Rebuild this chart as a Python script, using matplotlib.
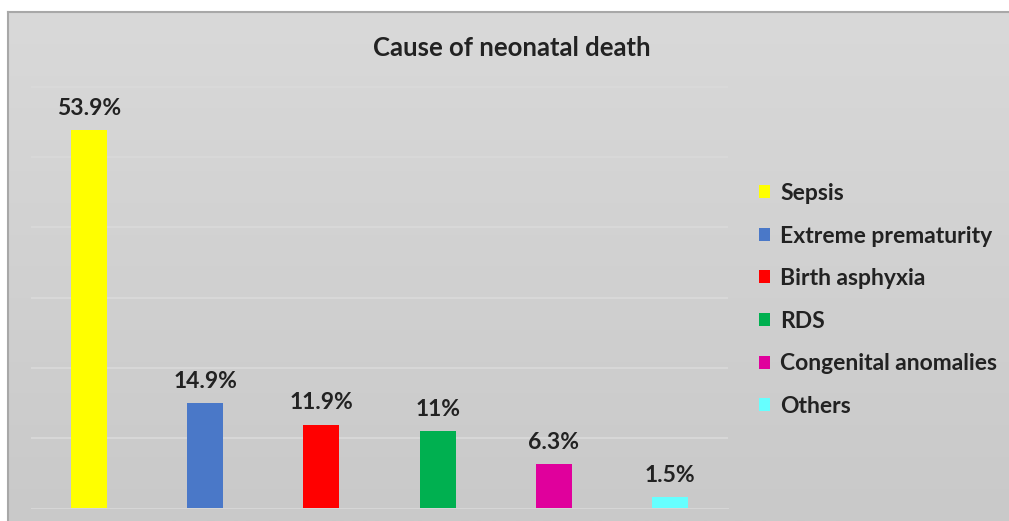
import numpy as np
import matplotlib
matplotlib.use("Agg")
import matplotlib.pyplot as plt

categories = ["Sepsis", "Extreme prematurity", "Birth asphyxia", "RDS",
              "Congenital anomalies", "Others"]
values = [53.9, 14.9, 11.9, 11.0, 6.3, 1.5]
value_labels = ["53.9%", "14.9%", "11.9%", "11%", "6.3%", "1.5%"]
colors = ["#ffff00", "#4a78c8", "#ff0000", "#00b050", "#e0009c", "#66ffff"]

plt.rcParams["font.family"] = ["Lato", "DejaVu Sans"]
plt.rcParams["font.weight"] = "bold"

W, H = 1009, 521
fig = plt.figure(figsize=(W / 100, H / 100), dpi=100)
fig.patch.set_facecolor("white")

# grey chart frame with a soft vertical gradient
bg = fig.add_axes([8 / W, 0, 1 - 8 / W, (H - 12) / H])
grad = np.linspace(0, 1, 256).reshape(-1, 1)
bg.imshow(grad, aspect="auto", cmap=matplotlib.colors.LinearSegmentedColormap.from_list(
    "g", ["#d9d9d9", "#c9c9c9"]), extent=[0, 1, 0, 1], origin="upper")
bg.set_xticks([])
bg.set_yticks([])
for s in ["right", "bottom"]:
    bg.spines[s].set_visible(False)
for s in ["left", "top"]:
    bg.spines[s].set_color("#a8a8a8")
    bg.spines[s].set_linewidth(1.5)

ax = fig.add_axes([31 / W, 13 / H, 697 / W, 491 / H])
ax.patch.set_alpha(0)
x = np.arange(len(categories))
bars = ax.bar(x, values, width=0.31, color=colors, zorder=3, label=categories)
ax.set_xlim(-0.5, len(categories) - 0.5)
ax.set_ylim(0, 70)
ax.set_yticks(np.arange(10, 70, 10))
ax.grid(axis="y", color="#dadada", linewidth=1.2, zorder=0)
ax.tick_params(left=False, bottom=False, labelleft=False, labelbottom=False)
for s in ["top", "right", "left"]:
    ax.spines[s].set_visible(False)
ax.spines["bottom"].set_color("#d6d6d6")

for b, lab in zip(bars, value_labels):
    ax.annotate(lab, (b.get_x() + b.get_width() / 2, b.get_height()),
                xytext=(0, 8), textcoords="offset points", ha="center",
                va="bottom", fontsize=16.5, fontweight="bold", color="#222222")

fig.text(512 / W, 1 - 48 / H, "Cause of neonatal death", ha="center",
         va="center", fontsize=18.5, fontweight="bold", color="#222222")

leg = fig.legend(bars, categories, loc="upper left",
                 bbox_to_anchor=(759 / W, 1 - 183 / H), frameon=False,
                 fontsize=16.5, handlelength=0.5, handleheight=0.5,
                 handletextpad=0.42, labelspacing=0.94, borderpad=0,
                 borderaxespad=0)
for t in leg.get_texts():
    t.set_color("#222222")
    t.set_fontweight("bold")

fig.savefig("out.png", dpi=100)
